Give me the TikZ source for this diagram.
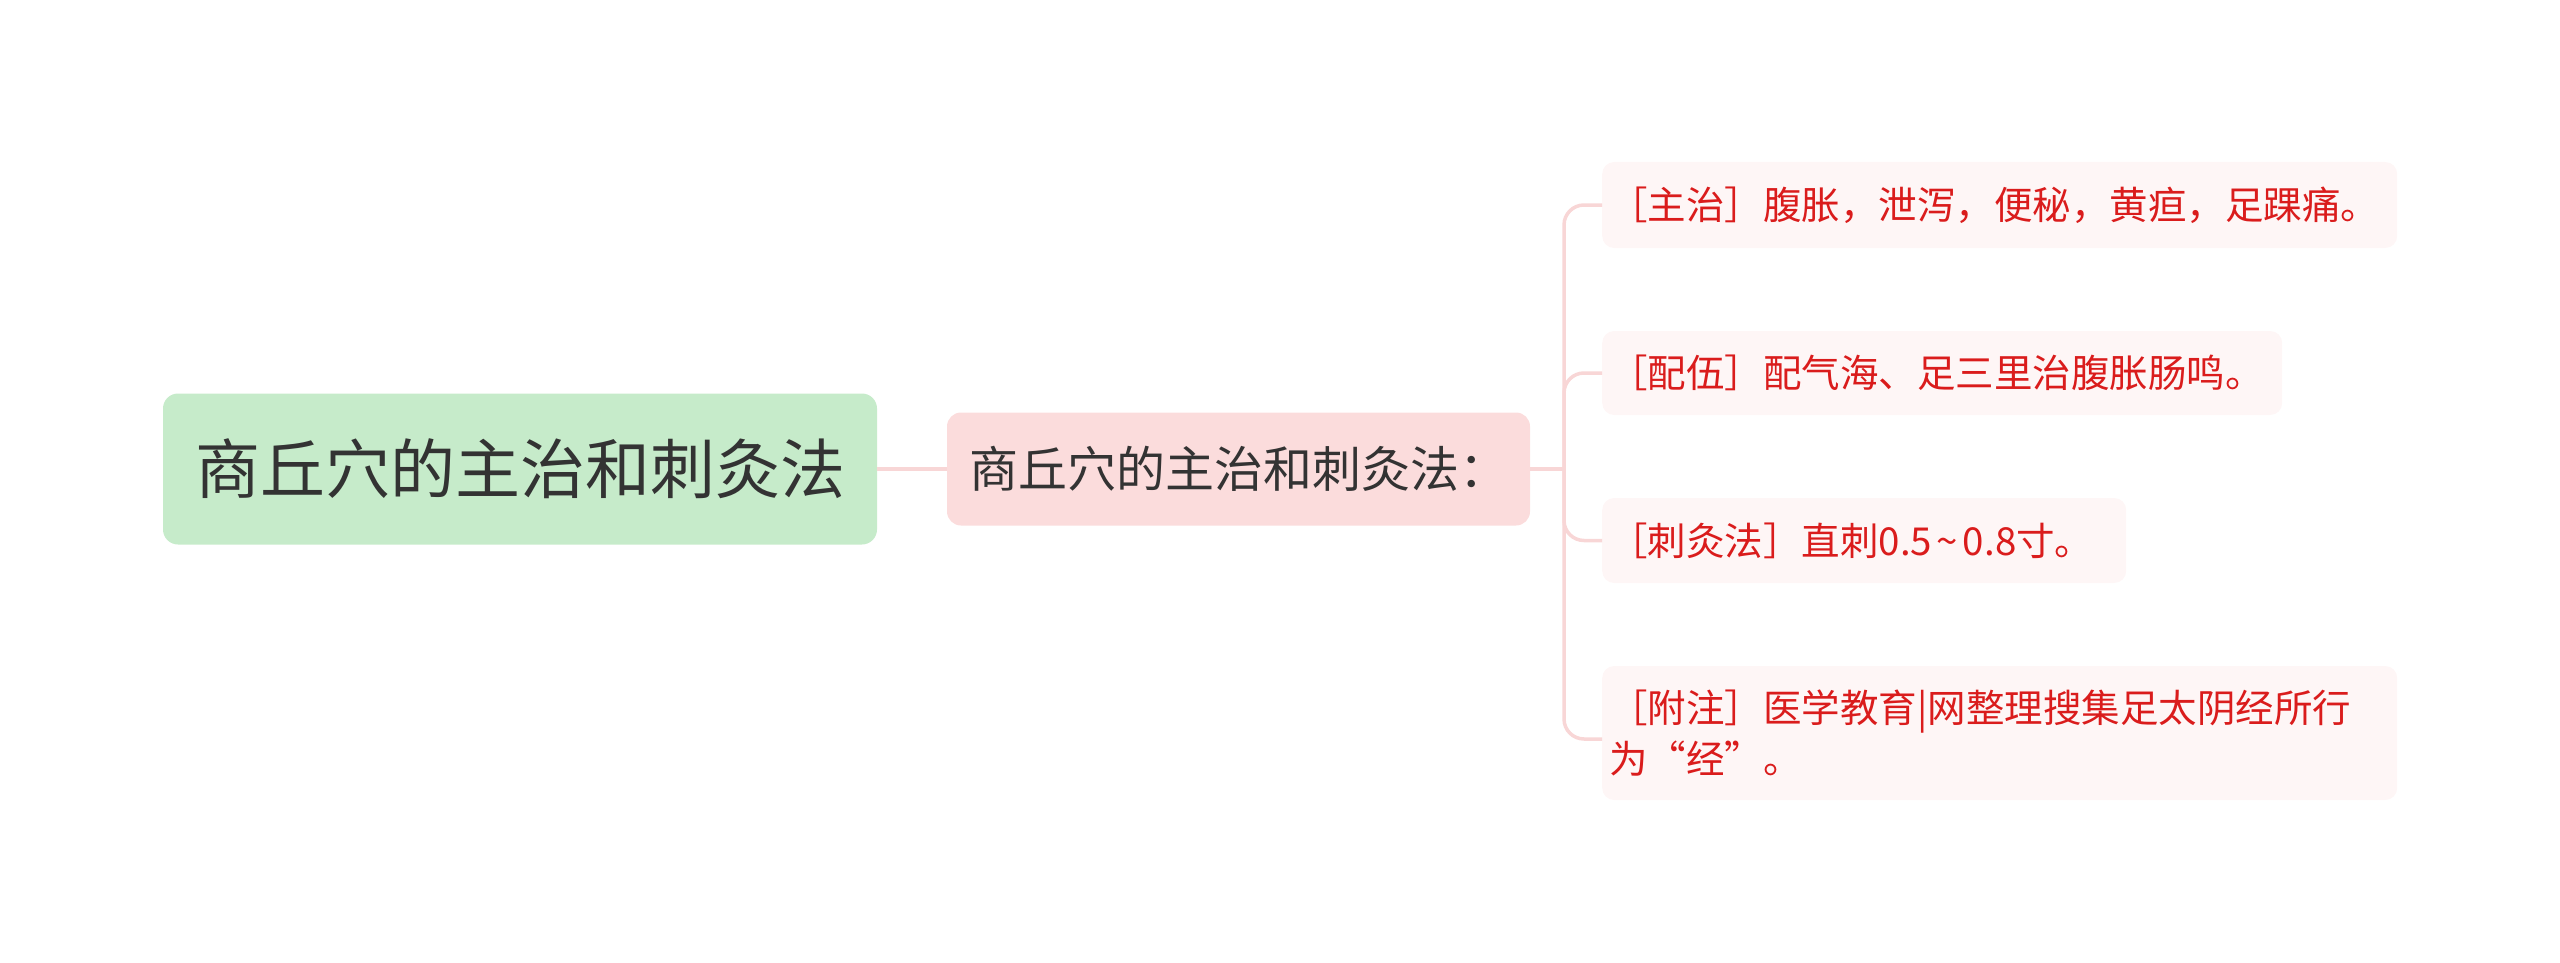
\documentclass[tikz,border=0pt]{standalone}
\usepackage{fontspec}
\newfontfamily\cjk{Noto Sans CJK SC}
\definecolor{rootfill}{RGB}{198,235,202}
\definecolor{midfill}{RGB}{251,220,220}
\definecolor{leaffill}{RGB}{254,246,246}
\definecolor{linecol}{RGB}{248,214,214}
\definecolor{leaftext}{RGB}{218,28,28}
\definecolor{darktext}{RGB}{51,51,51}
\begin{document}
\begin{tikzpicture}[x=1pt,y=-1pt,
  rootbox/.style={fill=rootfill,rounded corners=15pt,minimum width=714pt,minimum height=151pt,inner sep=0pt,font=\cjk\fontsize{65pt}{80pt}\selectfont,text=darktext},
  midbox/.style={fill=midfill,rounded corners=14pt,minimum width=583pt,minimum height=113pt,inner sep=0pt,font=\cjk\fontsize{49pt}{60pt}\selectfont,text=darktext},
  leafbox/.style={fill=leaffill,rounded corners=12pt,anchor=west,inner xsep=7pt,inner ysep=0pt,align=left,font=\cjk\fontsize{38.5pt}{51pt}\selectfont,text=leaftext},
  conn/.style={draw=linecol,line width=3.5pt},
]
\useasboundingbox (0,0) rectangle (2560,963);
\node[rootbox] (root) at (520,469) {商丘穴的主治和刺灸法};
\node[midbox] (mid) at (1238.5,469) {商丘穴的主治和刺灸法：};
\node[leafbox,text width=781pt,minimum height=86pt] (l1) at (1602,205) {［主治］腹胀，泄泻，便秘，黄疸，足踝痛。};
\node[leafbox,text width=666pt,minimum height=84pt] (l2) at (1602,373) {［配伍］配气海、足三里治腹胀肠鸣。};
\node[leafbox,text width=510pt,minimum height=85pt] (l3) at (1602,540.5) {［刺灸法］直刺0.5\makebox[0.8em]{\char"007E}0.8寸。};
\node[leafbox,text width=781pt,minimum height=134pt] (l4) at (1602,733) {［附注］医学教育|网整理搜集足太阴经所行\\为“经”。};
\coordinate (trunk) at (1564,469);
\draw[conn] (root.east) -- (mid.west);
\draw[conn] (mid.east) -- (trunk);
\draw[conn,rounded corners=20pt] (trunk) |- (l1.west);
\draw[conn,rounded corners=20pt] (trunk) |- (l2.west);
\draw[conn,rounded corners=20pt] (trunk) |- (l3.west);
\draw[conn,rounded corners=20pt] (trunk) |- ([yshift=-6pt]l4.west);
\end{tikzpicture}
\end{document}
